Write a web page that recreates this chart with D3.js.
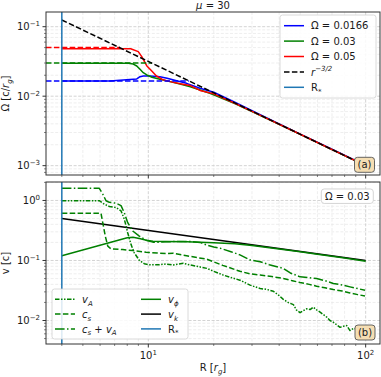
<!DOCTYPE html>
<html>
<head>
<meta charset="utf-8">
<title>Omega and velocity profiles</title>
<script src="https://cdn.jsdelivr.net/npm/d3@7"></script>
<style>
  body { margin: 0; background: #fff; }
  svg text { font-family: "DejaVu Sans", sans-serif; fill: #1a1a1a; }
</style>
</head>
<body>
<svg id="chart" width="381" height="377"></svg>
<script>
// ---- data ----
const xTicks = [10, 100];
const omegaTicks = [1e-3, 1e-2, 1e-1];
const vTicks = [1e-2, 1e-1, 1];
const rStar = 4;

// top panel: Omega profiles
const omegaLevels = [0.0166, 0.03, 0.05];
const corotR = [15.4, 10.4, 7.4];        // where the dashed Omega level meets r^-3/2
const keplerR = [4, 100];
const keplerOmega = [0.125, 0.001];

const blueR = [4, 6.66, 7.67, 8.85, 9.16, 9.48, 10.2, 11.3, 12.2, 13.5, 15.0, 17.3, 20, 25, 30, 40, 50, 70, 100];
const blueOmega = [0.01655, 0.01655, 0.0171, 0.0177, 0.0191, 0.0195, 0.0195, 0.0191, 0.0181, 0.0167, 0.0153, 0.0130, 0.0114, 0.0082, 0.0062, 0.0040, 0.00285, 0.00172, 0.00101];

const greenR = [4, 8.09, 8.53, 8.85, 9.16, 9.48, 9.84, 10.4, 11.3, 12.6, 14.0, 15.6, 17.3, 19.2, 25, 30, 40, 50, 70, 100];
const greenOmega = [0.0297, 0.0297, 0.029, 0.0272, 0.0244, 0.0218, 0.0202, 0.0187, 0.0175, 0.0162, 0.0150, 0.0137, 0.0123, 0.0110, 0.0078, 0.0060, 0.00393, 0.00282, 0.0017, 0.001];

const redR = [4, 8.3, 8.99, 9.33, 9.83, 10.4, 10.9, 11.7, 12.6, 14.2, 15.6, 17.3, 20, 25, 30, 40, 50, 70, 100];
const redOmega = [0.0482, 0.0482, 0.0437, 0.037, 0.0275, 0.0228, 0.0195, 0.0172, 0.0162, 0.0150, 0.0142, 0.0121, 0.0108, 0.0079, 0.00605, 0.00395, 0.00283, 0.00171, 0.001];

// bottom panel: velocities for Omega = 0.03
const vaR = [4, 5.95, 6.28, 6.62, 7.10, 7.49, 7.76, 8.04, 8.33, 8.62, 9.09, 9.58, 10.1, 11.2, 12.1, 13.0, 14.5, 15.6, 17, 18.6, 20, 22.1, 24, 26.4, 29.4, 32.7, 35, 37.6, 40, 41.8, 44, 46.5, 48, 49.9, 52, 53.6, 55.5, 57.4, 59.5, 61.7, 64, 66.2, 68.5, 71.0, 73.5, 76.3, 79, 81.8, 84.7, 87.8, 90.9, 94, 96.5, 99.3];
const vaV = [0.99, 0.99, 0.867, 0.793, 0.763, 0.671, 0.485, 0.29, 0.184, 0.134, 0.1007, 0.0884, 0.085, 0.085, 0.0873, 0.084, 0.0897, 0.084, 0.079, 0.0739, 0.066, 0.0571, 0.052, 0.047, 0.0388, 0.0341, 0.033, 0.0307, 0.026, 0.0225, 0.020, 0.0184, 0.0150, 0.0135, 0.0148, 0.0157, 0.0152, 0.0167, 0.0150, 0.0138, 0.0125, 0.0114, 0.0100, 0.00935, 0.0085, 0.00771, 0.0080, 0.00824, 0.0068, 0.0074, 0.00726, 0.0060, 0.0065, 0.0054];

const csR = [4, 6.06, 6.17, 6.34, 6.51, 6.74, 7.62, 8.48, 9.76, 11, 12.1, 13.0, 15, 18.6, 22, 26.4, 29.4, 32.7, 37, 41.8, 46, 49.9, 55, 59.5, 65, 71, 78, 84.7, 92, 99.3];
const csV = [0.612, 0.612, 0.427, 0.255, 0.173, 0.156, 0.152, 0.146, 0.137, 0.133, 0.130, 0.132, 0.12, 0.105, 0.083, 0.066, 0.060, 0.0571, 0.054, 0.0502, 0.046, 0.043, 0.040, 0.0373, 0.035, 0.0328, 0.031, 0.0288, 0.027, 0.0256];

const csvaR = [4, 5.95, 6.17, 6.39, 6.62, 7.10, 7.49, 7.76, 8.04, 8.48, 9.09, 9.76, 10.5, 11.2, 12.1, 13.5, 15.6, 17.3, 18.6, 20, 21.4, 24, 26.4, 29.4, 32.7, 36, 41.8, 45, 49.9, 54, 59.5, 65, 71, 78, 84.7, 92, 99.3];
const csvaV = [1.59, 1.59, 1.28, 0.99, 0.93, 0.90, 0.82, 0.62, 0.427, 0.310, 0.255, 0.218, 0.202, 0.202, 0.205, 0.207, 0.207, 0.200, 0.180, 0.168, 0.160, 0.140, 0.124, 0.102, 0.0954, 0.085, 0.0739, 0.062, 0.0534, 0.052, 0.0502, 0.046, 0.0414, 0.039, 0.0363, 0.034, 0.0319];

const vphiR = [4, 8.0, 8.5, 9.1, 9.8, 10.5, 12, 15, 20, 25, 30, 40, 50, 60, 80, 100];
const vphiV = [0.12, 0.24, 0.243, 0.232, 0.218, 0.21, 0.207, 0.205, 0.198, 0.19, 0.178, 0.156, 0.140, 0.127, 0.110, 0.097];

const vkR = [4, 100];
const vkV = [0.5, 0.1];

// ---- layout ----
const svg = d3.select("#chart");
const left = 46, right = 380;
const top1 = 12, bottom1 = 175, top2 = 182, bottom2 = 344;
const dashed = "5.5,2.4", dashDot = "9.6,2.4,1.5,2.4", dashDotDot = "4.5,1.5,1.5,1.5,1.5,1.5";

const x = d3.scaleLog().domain([3.383, 116.4]).range([left, right]);
const yTop = d3.scaleLog().domain([0.000734, 0.1627]).range([bottom1, top1]);
const yBot = d3.scaleLog().domain([0.00406, 2.03]).range([bottom2, top2]);

function minors(scale) {
  const [a, b] = scale.domain().slice().sort(d3.ascending);
  const out = [];
  for (let e = Math.floor(Math.log10(a)); e <= Math.ceil(Math.log10(b)); e++) {
    for (let m = 2; m <= 9; m++) {
      const v = m * Math.pow(10, e);
      if (v >= a && v <= b) out.push(v);
    }
  }
  return out;
}

// rich text with italic / sub / superscript parts
function rich(sel, parts, size) {
  let shift = 0;
  parts.forEach(p => {
    const ts = sel.append("tspan").text(p.t);
    let target = 0;
    if (p.sub) target = size * 0.28;
    if (p.sup) target = -size * 0.42;
    if (target - shift !== 0) ts.attr("dy", target - shift);
    shift = target;
    if (p.sub || p.sup) ts.attr("font-size", size * 0.7);
    if (p.i) ts.attr("font-style", "italic");
  });
}

function powLabel(v) {
  const e = Math.round(Math.log10(v));
  return [{ t: "10" }, { t: (e < 0 ? "\u2212" : "") + Math.abs(e), sup: true }];
}

function panel(y, top, bottom, yTicks, id) {
  const g = svg.append("g");
  svg.append("clipPath").attr("id", id).append("rect")
    .attr("x", left).attr("y", top).attr("width", right - left).attr("height", bottom - top);

  // grid
  const grid = g.append("g").attr("fill", "none");
  grid.selectAll(".vmin").data(minors(x)).enter().append("line")
    .attr("x1", d => x(d)).attr("x2", d => x(d)).attr("y1", top).attr("y2", bottom)
    .attr("stroke", "#e2e2e2").attr("stroke-width", 0.6).attr("stroke-dasharray", "3,1.6");
  grid.selectAll(".hmin").data(minors(y)).enter().append("line")
    .attr("y1", d => y(d)).attr("y2", d => y(d)).attr("x1", left).attr("x2", right)
    .attr("stroke", "#e2e2e2").attr("stroke-width", 0.6).attr("stroke-dasharray", "3,1.6");
  grid.selectAll(".vmaj").data(xTicks).enter().append("line")
    .attr("x1", d => x(d)).attr("x2", d => x(d)).attr("y1", top).attr("y2", bottom)
    .attr("stroke", "#c8c8c8").attr("stroke-width", 0.8).attr("stroke-dasharray", "3,1.6");
  grid.selectAll(".hmaj").data(yTicks).enter().append("line")
    .attr("y1", d => y(d)).attr("y2", d => y(d)).attr("x1", left).attr("x2", right)
    .attr("stroke", "#c8c8c8").attr("stroke-width", 0.8).attr("stroke-dasharray", "3,1.6");

  // ticks
  const ax = svg.append("g").attr("stroke", "#333");
  ax.selectAll(".xt").data(xTicks).enter().append("line")
    .attr("x1", d => x(d)).attr("x2", d => x(d)).attr("y1", bottom).attr("y2", bottom + 3.5);
  ax.selectAll(".xm").data(minors(x)).enter().append("line").attr("stroke-width", 0.6)
    .attr("x1", d => x(d)).attr("x2", d => x(d)).attr("y1", bottom).attr("y2", bottom + 2);
  ax.selectAll(".yt").data(yTicks).enter().append("line")
    .attr("y1", d => y(d)).attr("y2", d => y(d)).attr("x1", left).attr("x2", left - 3.5);
  ax.selectAll(".ym").data(minors(y)).enter().append("line").attr("stroke-width", 0.6)
    .attr("y1", d => y(d)).attr("y2", d => y(d)).attr("x1", left).attr("x2", left - 2);

  yTicks.forEach(v => {
    const t = svg.append("text").attr("x", left - 6).attr("y", y(v) + 3.6)
      .attr("text-anchor", "end").attr("font-size", 10);
    rich(t, powLabel(v), 10);
  });

  const plot = svg.append("g").attr("clip-path", "url(#" + id + ")");
  return { plot: plot, border: () => svg.append("rect").attr("x", left).attr("y", top)
    .attr("width", right - left).attr("height", bottom - top)
    .attr("fill", "none").attr("stroke", "#333").attr("stroke-width", 1) };
}

function drawLine(g, y, xs, ys, color, dash, width) {
  g.append("path").datum(d3.zip(xs, ys))
    .attr("fill", "none").attr("stroke", color).attr("stroke-width", width || 1.5)
    .attr("stroke-dasharray", dash || null).attr("stroke-linejoin", "round")
    .attr("d", d3.line().x(d => x(d[0])).y(d => y(d[1])));
}

// ---- top panel ----
const p1 = panel(yTop, top1, bottom1, omegaTicks, "clipTop");
const omegaColors = ["#0000ff", "#008000", "#ff0000"];
drawLine(p1.plot, yTop, blueR, blueOmega, omegaColors[0]);
drawLine(p1.plot, yTop, greenR, greenOmega, omegaColors[1]);
drawLine(p1.plot, yTop, redR, redOmega, omegaColors[2]);
omegaLevels.forEach((o, i) => {
  drawLine(p1.plot, yTop, [x.domain()[0], corotR[i]], [o, o], omegaColors[i], dashed);
});
drawLine(p1.plot, yTop, keplerR, keplerOmega, "#000", dashed);
p1.plot.append("line").attr("x1", x(rStar)).attr("x2", x(rStar)).attr("y1", top1).attr("y2", bottom1)
  .attr("stroke", "#1f77b4").attr("stroke-width", 1.5);
p1.border();

// ---- bottom panel ----
const p2 = panel(yBot, top2, bottom2, vTicks, "clipBot");
drawLine(p2.plot, yBot, vkR, vkV, "#000");
drawLine(p2.plot, yBot, vaR, vaV, "#008000", dashDotDot);
drawLine(p2.plot, yBot, csR, csV, "#008000", dashed);
drawLine(p2.plot, yBot, csvaR, csvaV, "#008000", dashDot);
drawLine(p2.plot, yBot, vphiR, vphiV, "#008000");
p2.plot.append("line").attr("x1", x(rStar)).attr("x2", x(rStar)).attr("y1", top2).attr("y2", bottom2)
  .attr("stroke", "#1f77b4").attr("stroke-width", 1.5);
p2.border();

// x tick labels
xTicks.forEach(v => {
  const t = svg.append("text").attr("x", x(v)).attr("y", 359)
    .attr("text-anchor", "middle").attr("font-size", 10);
  rich(t, powLabel(v), 10);
});

// axis labels and title
rich(svg.append("text").attr("x", 213).attr("y", 371).attr("text-anchor", "middle").attr("font-size", 10),
  [{ t: "R [" }, { t: "r", i: true }, { t: "g", i: true, sub: true }, { t: "]" }], 10);
rich(svg.append("text").attr("transform", "translate(9," + (top1 + bottom1) / 2 + ") rotate(-90)")
  .attr("text-anchor", "middle").attr("font-size", 10),
  [{ t: "\u03a9 [c/" }, { t: "r", i: true }, { t: "g", i: true, sub: true }, { t: "]" }], 10);
svg.append("text").attr("transform", "translate(9," + (top2 + bottom2) / 2 + ") rotate(-90)")
  .attr("text-anchor", "middle").attr("font-size", 10).text("v [c]");
rich(svg.append("text").attr("x", 213).attr("y", 8.5).attr("text-anchor", "middle").attr("font-size", 10),
  [{ t: "\u03bc", i: true }, { t: " = 30" }], 10);

// ---- legends ----
function legendBox(x0, y0, w, h) {
  svg.append("rect").attr("x", x0).attr("y", y0).attr("width", w).attr("height", h).attr("rx", 2.5)
    .attr("fill", "#fff").attr("fill-opacity", 0.85).attr("stroke", "#d0d0d0").attr("stroke-width", 0.8);
}
function legendItem(lx, ly, color, dash, parts) {
  svg.append("line").attr("x1", lx).attr("x2", lx + 20).attr("y1", ly).attr("y2", ly)
    .attr("stroke", color).attr("stroke-width", 1.5).attr("stroke-dasharray", dash || null);
  rich(svg.append("text").attr("x", lx + 27).attr("y", ly + 3.6).attr("font-size", 10), parts, 10);
}

legendBox(280, 15, 96, 83);
const topLegend = [
  [omegaColors[0], null, [{ t: "\u03a9 = 0.0166" }]],
  [omegaColors[1], null, [{ t: "\u03a9 = 0.03" }]],
  [omegaColors[2], null, [{ t: "\u03a9 = 0.05" }]],
  ["#000", dashed, [{ t: "r", i: true }, { t: "\u22123/2", sup: true, i: true }]],
  ["#1f77b4", null, [{ t: "R" }, { t: "*", sub: true }]]
];
topLegend.forEach((d, i) => legendItem(284, 25.7 + i * 15.4, d[0], d[1], d[2]));

legendBox(52, 289, 136, 50);
const botLegend = [
  ["#008000", dashDotDot, [{ t: "v", i: true }, { t: "A", i: true, sub: true }]],
  ["#008000", dashed, [{ t: "c", i: true }, { t: "s", i: true, sub: true }]],
  ["#008000", dashDot, [{ t: "c", i: true }, { t: "s", i: true, sub: true }, { t: " + " }, { t: "v", i: true }, { t: "A", i: true, sub: true }]],
  ["#008000", null, [{ t: "v", i: true }, { t: "\u03d5", i: true, sub: true }]],
  ["#000", null, [{ t: "v", i: true }, { t: "k", i: true, sub: true }]],
  ["#1f77b4", null, [{ t: "R" }, { t: "*", sub: true }]]
];
botLegend.forEach((d, i) => {
  const col = Math.floor(i / 3), row = i % 3;
  legendItem(col ? 141 : 55, 299.3 + row * 14.8, d[0], d[1], d[2]);
});

// annotation boxes
function tag(cx, cy, w, h, text, fill, stroke) {
  svg.append("rect").attr("x", cx - w / 2).attr("y", cy - h / 2).attr("width", w).attr("height", h)
    .attr("rx", 3).attr("fill", fill).attr("stroke", stroke).attr("stroke-width", 0.9);
  svg.append("text").attr("x", cx).attr("y", cy + 3.6).attr("text-anchor", "middle")
    .attr("font-size", 10).text(text);
}
tag(364.5, 164.8, 20, 15, "(a)", "#f5deb3", "#555");
tag(365, 332.5, 20, 15, "(b)", "#f5deb3", "#555");
tag(347.3, 196.2, 52, 14.5, "\u03a9 = 0.03", "#fff", "#d0d0d0");
</script>
</body>
</html>
